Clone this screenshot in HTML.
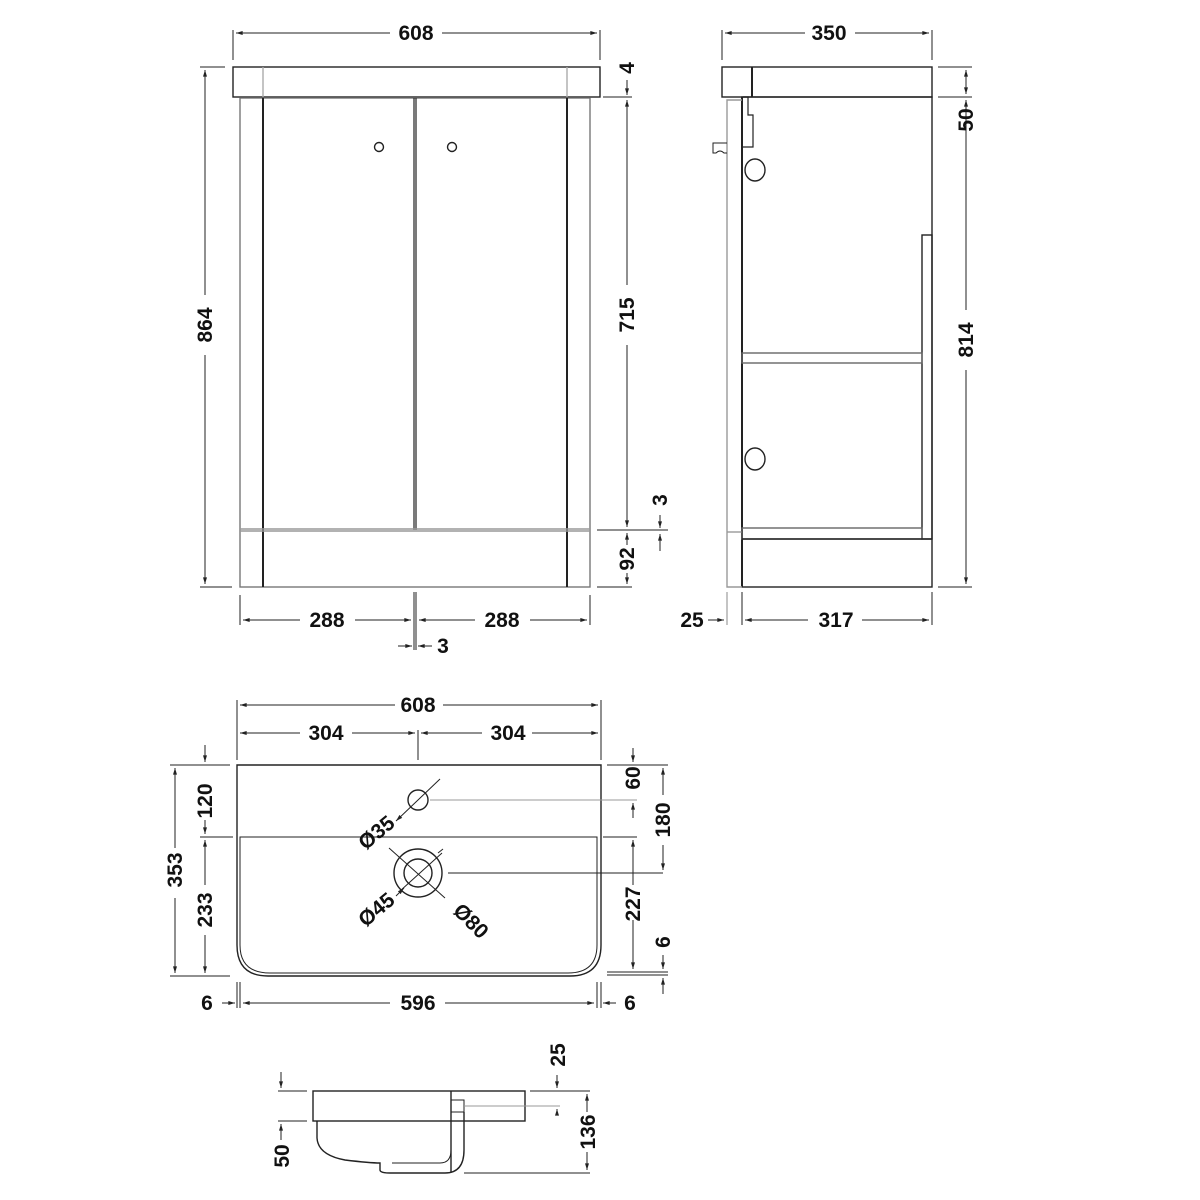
<!DOCTYPE html>
<html><head><meta charset="utf-8"><style>
html,body{margin:0;padding:0;background:#fff}
svg{display:block}
text{font-family:"Liberation Sans",sans-serif;font-weight:bold;font-size:21px;fill:#111}
</style></head><body>
<svg width="1200" height="1200" viewBox="0 0 1200 1200" xmlns="http://www.w3.org/2000/svg">
<defs>
<marker id="a" viewBox="0 0 10 6" refX="10" refY="3" markerWidth="7" markerHeight="4" orient="auto-start-reverse"><path d="M0,0 L10,3 L0,6 z" fill="#222"/></marker>
</defs>
<g stroke="#222" stroke-width="1.4" fill="none">
<!-- FRONT VIEW -->
<rect x="233" y="67" width="367" height="30"/>
<line x1="263" y1="67" x2="263" y2="97" stroke="#aaa"/>
<line x1="567" y1="67" x2="567" y2="97" stroke="#aaa"/>
<rect x="240" y="98" width="350" height="489" stroke="#777"/>
<line x1="263" y1="98" x2="263" y2="587" stroke-width="2"/>
<line x1="567" y1="98" x2="567" y2="587" stroke-width="2"/>
<line x1="414" y1="98" x2="414" y2="530" stroke-width="1.2"/>
<line x1="416" y1="98" x2="416" y2="530" stroke-width="1.2"/>
<line x1="240" y1="529" x2="590" y2="529" stroke="#999"/>
<line x1="240" y1="531" x2="590" y2="531" stroke="#999"/>
<circle cx="379" cy="147" r="4.5"/>
<circle cx="452" cy="147" r="4.5"/>
<!-- front dims -->
<line x1="233" y1="30" x2="233" y2="60" stroke-width="1"/>
<line x1="600" y1="30" x2="600" y2="60" stroke-width="1"/>
<line x1="236" y1="33" x2="390" y2="33" stroke-width="1" marker-start="url(#a)"/>
<line x1="442" y1="33" x2="597" y2="33" stroke-width="1" marker-end="url(#a)"/>
<line x1="200" y1="67" x2="225" y2="67" stroke-width="1"/>
<line x1="200" y1="587" x2="232" y2="587" stroke-width="1"/>
<line x1="205" y1="70" x2="205" y2="295" stroke-width="1" marker-start="url(#a)"/>
<line x1="205" y1="355" x2="205" y2="584" stroke-width="1" marker-end="url(#a)"/>
<line x1="603" y1="97" x2="632" y2="97" stroke-width="1"/>
<line x1="627" y1="80" x2="627" y2="95" stroke-width="1" marker-end="url(#a)"/>
<line x1="627" y1="100" x2="627" y2="285" stroke-width="1" marker-start="url(#a)"/>
<line x1="627" y1="345" x2="627" y2="527" stroke-width="1" marker-end="url(#a)"/>
<line x1="597" y1="530" x2="668" y2="530" stroke-width="1"/>
<line x1="627" y1="533" x2="627" y2="545" stroke-width="1" marker-start="url(#a)"/>
<line x1="627" y1="573" x2="627" y2="584" stroke-width="1" marker-end="url(#a)"/>
<line x1="597" y1="587" x2="632" y2="587" stroke-width="1"/>
<line x1="660" y1="515" x2="660" y2="528" stroke-width="1" marker-end="url(#a)"/>
<line x1="660" y1="551" x2="660" y2="534" stroke-width="1" marker-end="url(#a)"/>
<line x1="240" y1="595" x2="240" y2="625" stroke-width="1"/>
<line x1="590" y1="595" x2="590" y2="625" stroke-width="1"/>
<line x1="414" y1="592" x2="414" y2="650" stroke-width="1"/>
<line x1="416" y1="592" x2="416" y2="650" stroke-width="1"/>
<line x1="243" y1="620" x2="300" y2="620" stroke-width="1" marker-start="url(#a)"/>
<line x1="355" y1="620" x2="411" y2="620" stroke-width="1" marker-end="url(#a)"/>
<line x1="419" y1="620" x2="475" y2="620" stroke-width="1" marker-start="url(#a)"/>
<line x1="530" y1="620" x2="587" y2="620" stroke-width="1" marker-end="url(#a)"/>
<line x1="398" y1="646" x2="412" y2="646" stroke-width="1" marker-end="url(#a)"/>
<line x1="432" y1="646" x2="418" y2="646" stroke-width="1" marker-end="url(#a)"/>

<!-- SIDE VIEW -->
<rect x="722" y="67" width="210" height="30"/>
<line x1="752" y1="67" x2="752" y2="97" stroke-width="2"/>
<rect x="742" y="97" width="190" height="490"/>
<line x1="742" y1="97" x2="742" y2="587" stroke-width="2"/>
<path d="M742,100 L727,100 L727,587 L742,587" stroke="#999"/>
<line x1="727" y1="532" x2="742" y2="532" stroke="#999"/>
<path d="M743,97 L748,97 L748,115 L753,115 L753,147 L743,147" stroke-width="1.2"/>
<path d="M727,143 L713,143 L713,153 L716,153 Q720,149 724,153 L727,153" stroke-width="1"/>
<ellipse cx="755" cy="170" rx="10" ry="11"/>
<ellipse cx="755" cy="459" rx="10" ry="11"/>
<rect x="922" y="235" width="10" height="304"/>
<rect x="742" y="353" width="180" height="10" stroke="#666"/>
<rect x="742" y="528" width="180" height="11" stroke="#666"/>
<line x1="742" y1="539" x2="932" y2="539"/>
<!-- side dims -->
<line x1="722" y1="30" x2="722" y2="60" stroke-width="1"/>
<line x1="932" y1="30" x2="932" y2="60" stroke-width="1"/>
<line x1="725" y1="33" x2="805" y2="33" stroke-width="1" marker-start="url(#a)"/>
<line x1="855" y1="33" x2="929" y2="33" stroke-width="1" marker-end="url(#a)"/>
<line x1="938" y1="67" x2="972" y2="67" stroke-width="1"/>
<line x1="938" y1="97" x2="972" y2="97" stroke-width="1"/>
<line x1="938" y1="587" x2="972" y2="587" stroke-width="1"/>
<line x1="966" y1="70" x2="966" y2="94" stroke-width="1" marker-start="url(#a)" marker-end="url(#a)"/>
<line x1="966" y1="100" x2="966" y2="310" stroke-width="1" marker-start="url(#a)"/>
<line x1="966" y1="370" x2="966" y2="584" stroke-width="1" marker-end="url(#a)"/>
<line x1="727" y1="592" x2="727" y2="625" stroke-width="1" stroke="#888"/>
<line x1="742" y1="592" x2="742" y2="625" stroke-width="1"/>
<line x1="932" y1="592" x2="932" y2="625" stroke-width="1"/>
<line x1="708" y1="620" x2="724" y2="620" stroke-width="1" marker-end="url(#a)"/>
<line x1="745" y1="620" x2="808" y2="620" stroke-width="1" marker-start="url(#a)"/>
<line x1="862" y1="620" x2="929" y2="620" stroke-width="1" marker-end="url(#a)"/>

<!-- BASIN TOP VIEW -->
<path d="M237,765 L601,765 L601,945 Q601,976 570,976 L268,976 Q237,976 237,945 Z"/>
<path d="M240,837 L597,837 L597,945 Q597,973 568,973 L270,973 Q240,973 240,945 Z" stroke-width="1"/>
<circle cx="418" cy="800" r="10"/>
<circle cx="418" cy="873" r="24"/>
<circle cx="418" cy="873" r="14"/>
<line x1="430" y1="800" x2="637" y2="800" stroke="#999" stroke-width="1"/>
<line x1="448" y1="873" x2="663" y2="873" stroke-width="1"/>
<line x1="396" y1="821" x2="440" y2="779" stroke-width="1" marker-start="url(#a)"/>
<line x1="389" y1="848" x2="445" y2="898" stroke-width="1"/>
<line x1="400" y1="891" x2="442" y2="853" stroke-width="1"/>
<line x1="396" y1="896" x2="404" y2="888" stroke-width="1" marker-end="url(#a)"/>
<line x1="438" y1="853" x2="443" y2="849" stroke-width="1"/>
<!-- basin dims -->
<line x1="237" y1="700" x2="237" y2="760" stroke-width="1"/>
<line x1="601" y1="700" x2="601" y2="760" stroke-width="1"/>
<line x1="240" y1="705" x2="395" y2="705" stroke-width="1" marker-start="url(#a)"/>
<line x1="443" y1="705" x2="598" y2="705" stroke-width="1" marker-end="url(#a)"/>
<line x1="240" y1="733" x2="300" y2="733" stroke-width="1" marker-start="url(#a)"/>
<line x1="352" y1="733" x2="415" y2="733" stroke-width="1" marker-end="url(#a)"/>
<line x1="421" y1="733" x2="482" y2="733" stroke-width="1" marker-start="url(#a)"/>
<line x1="532" y1="733" x2="598" y2="733" stroke-width="1" marker-end="url(#a)"/>
<line x1="418" y1="730" x2="418" y2="760" stroke-width="1"/>
<line x1="170" y1="765" x2="230" y2="765" stroke-width="1"/>
<line x1="200" y1="837" x2="233" y2="837" stroke-width="1"/>
<line x1="170" y1="976" x2="230" y2="976" stroke-width="1"/>
<line x1="175" y1="768" x2="175" y2="848" stroke-width="1" marker-start="url(#a)"/>
<line x1="175" y1="898" x2="175" y2="973" stroke-width="1" marker-end="url(#a)"/>
<line x1="205" y1="745" x2="205" y2="762" stroke-width="1" marker-end="url(#a)"/>
<line x1="205" y1="820" x2="205" y2="834" stroke-width="1" marker-end="url(#a)"/>
<line x1="205" y1="840" x2="205" y2="885" stroke-width="1" marker-start="url(#a)"/>
<line x1="205" y1="935" x2="205" y2="973" stroke-width="1" marker-end="url(#a)"/>
<line x1="607" y1="765" x2="668" y2="765" stroke-width="1"/>
<line x1="603" y1="837" x2="637" y2="837" stroke-width="1"/>
<line x1="607" y1="972" x2="668" y2="972" stroke-width="1"/>
<line x1="607" y1="975" x2="668" y2="975" stroke-width="1"/>
<line x1="633" y1="748" x2="633" y2="762" stroke-width="1" marker-end="url(#a)"/>
<line x1="633" y1="818" x2="633" y2="803" stroke-width="1" marker-end="url(#a)"/>
<line x1="633" y1="840" x2="633" y2="885" stroke-width="1" marker-start="url(#a)"/>
<line x1="633" y1="920" x2="633" y2="969" stroke-width="1" marker-end="url(#a)"/>
<line x1="663" y1="768" x2="663" y2="795" stroke-width="1" marker-start="url(#a)"/>
<line x1="663" y1="845" x2="663" y2="870" stroke-width="1" marker-end="url(#a)"/>
<line x1="663" y1="955" x2="663" y2="969" stroke-width="1" marker-end="url(#a)"/>
<line x1="663" y1="994" x2="663" y2="978" stroke-width="1" marker-end="url(#a)"/>
<line x1="237" y1="982" x2="237" y2="1008" stroke-width="1"/>
<line x1="240" y1="982" x2="240" y2="1008" stroke-width="1"/>
<line x1="597" y1="982" x2="597" y2="1008" stroke-width="1"/>
<line x1="601" y1="982" x2="601" y2="1008" stroke-width="1"/>
<line x1="222" y1="1003" x2="235" y2="1003" stroke-width="1" marker-end="url(#a)"/>
<line x1="243" y1="1003" x2="390" y2="1003" stroke-width="1" marker-start="url(#a)"/>
<line x1="445" y1="1003" x2="594" y2="1003" stroke-width="1" marker-end="url(#a)"/>
<line x1="616" y1="1003" x2="603" y2="1003" stroke-width="1" marker-end="url(#a)"/>

<!-- BASIN SIDE VIEW -->
<rect x="313" y="1091" width="212" height="30"/>
<line x1="451" y1="1091" x2="451" y2="1172"/>
<rect x="451" y="1100" width="13" height="12" stroke-width="1"/>
<line x1="464" y1="1106" x2="560" y2="1106" stroke="#999" stroke-width="1"/>
<path d="M317,1121 L317,1138 Q318,1155 345,1160 Q370,1163 380,1163 L380,1170 Q380,1173 390,1173 L445,1173 Q464,1173 464,1150 L464,1112"/>
<path d="M392,1163 L440,1163 Q451,1163 451,1150" stroke-width="1"/>
<line x1="464" y1="1173" x2="590" y2="1173" stroke-width="1"/>
<line x1="278" y1="1091" x2="307" y2="1091" stroke-width="1"/>
<line x1="278" y1="1121" x2="307" y2="1121" stroke-width="1"/>
<line x1="281" y1="1072" x2="281" y2="1088" stroke-width="1" marker-end="url(#a)"/>
<line x1="281" y1="1140" x2="281" y2="1124" stroke-width="1" marker-end="url(#a)"/>
<line x1="530" y1="1091" x2="590" y2="1091" stroke-width="1"/>
<line x1="557" y1="1075" x2="557" y2="1088" stroke-width="1" marker-end="url(#a)"/>
<line x1="557" y1="1115" x2="557" y2="1109" stroke-width="1" marker-end="url(#a)"/>
<line x1="587" y1="1094" x2="587" y2="1112" stroke-width="1" marker-start="url(#a)"/>
<line x1="587" y1="1152" x2="587" y2="1170" stroke-width="1" marker-end="url(#a)"/>
</g>

<!-- TEXT -->
<text x="416" y="40" text-anchor="middle">608</text>
<text transform="translate(212,325) rotate(-90)" text-anchor="middle">864</text>
<text transform="translate(634,68) rotate(-90)" text-anchor="middle">4</text>
<text transform="translate(634,315) rotate(-90)" text-anchor="middle">715</text>
<text transform="translate(667,500) rotate(-90)" text-anchor="middle">3</text>
<text transform="translate(634,559) rotate(-90)" text-anchor="middle">92</text>
<text x="327" y="627" text-anchor="middle">288</text>
<text x="502" y="627" text-anchor="middle">288</text>
<text x="443" y="653" text-anchor="middle">3</text>
<text x="829" y="40" text-anchor="middle">350</text>
<text transform="translate(973,120) rotate(-90)" text-anchor="middle">50</text>
<text transform="translate(973,340) rotate(-90)" text-anchor="middle">814</text>
<text x="692" y="627" text-anchor="middle">25</text>
<text x="836" y="627" text-anchor="middle">317</text>
<text x="418" y="712" text-anchor="middle">608</text>
<text x="326" y="740" text-anchor="middle">304</text>
<text x="508" y="740" text-anchor="middle">304</text>
<text transform="translate(212,801) rotate(-90)" text-anchor="middle">120</text>
<text transform="translate(182,870) rotate(-90)" text-anchor="middle">353</text>
<text transform="translate(212,910) rotate(-90)" text-anchor="middle">233</text>
<text transform="translate(640,778) rotate(-90)" text-anchor="middle">60</text>
<text transform="translate(670,820) rotate(-90)" text-anchor="middle">180</text>
<text transform="translate(640,904) rotate(-90)" text-anchor="middle">227</text>
<text transform="translate(670,942) rotate(-90)" text-anchor="middle">6</text>
<text transform="translate(381,838) rotate(-40)" text-anchor="middle">Ø35</text>
<text transform="translate(381,915) rotate(-40)" text-anchor="middle">Ø45</text>
<text transform="translate(466,926) rotate(45)" text-anchor="middle">Ø80</text>
<text x="207" y="1010" text-anchor="middle">6</text>
<text x="418" y="1010" text-anchor="middle">596</text>
<text x="630" y="1010" text-anchor="middle">6</text>
<text transform="translate(289,1156) rotate(-90)" text-anchor="middle">50</text>
<text transform="translate(565,1055) rotate(-90)" text-anchor="middle">25</text>
<text transform="translate(595,1132) rotate(-90)" text-anchor="middle">136</text>
</svg>
</body></html>
